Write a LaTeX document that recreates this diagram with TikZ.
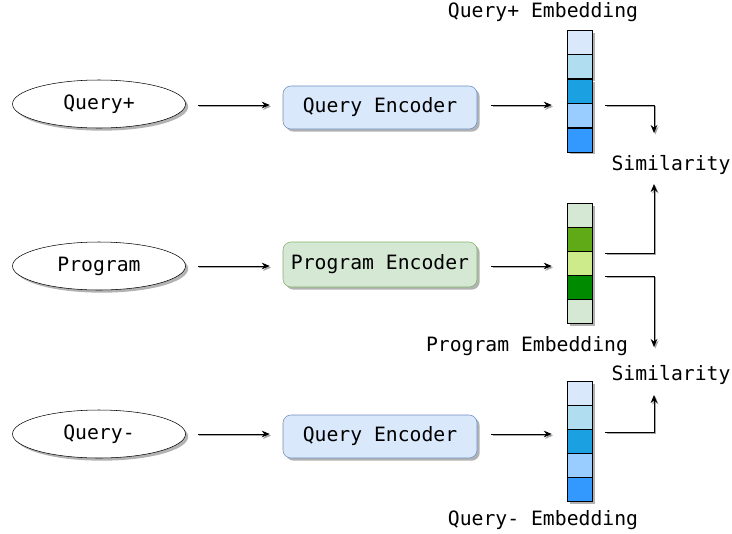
\documentclass[tikz,border=0pt]{standalone}
\usepackage{fontspec}
\setmonofont{DejaVu Sans Mono}
\usetikzlibrary{shapes.geometric,shadows,arrows.meta}
\definecolor{qfill}{HTML}{DAE8FC}
\definecolor{qdraw}{HTML}{6C8EBF}
\definecolor{pfill}{HTML}{D5E8D4}
\definecolor{pdraw}{HTML}{82B366}
\definecolor{qa}{HTML}{DAE8FC}
\definecolor{qb}{HTML}{B1DDF0}
\definecolor{qc}{HTML}{1BA1E2}
\definecolor{qd}{HTML}{99CCFF}
\definecolor{qe}{HTML}{3399FF}
\definecolor{pa}{HTML}{D5E8D4}
\definecolor{pb}{HTML}{60A917}
\definecolor{pc}{HTML}{CDEB8B}
\definecolor{pd}{HTML}{008A00}
\begin{document}
\begin{tikzpicture}[x=0.75pt,y=-0.75pt,
  txt/.style={font=\ttfamily\fontsize{14.8}{17}\selectfont},
  shd/.style={drop shadow={shadow xshift=2pt,shadow yshift=-2pt,opacity=0.3,fill=black}},
  inbox/.style={ellipse,draw=black,fill=white,shd,minimum width=173*0.75pt,minimum height=48*0.75pt,inner sep=0pt,txt},
  qenc/.style={rounded corners=6pt,draw=qdraw,fill=qfill,shd,minimum width=194*0.75pt,minimum height=43*0.75pt,inner sep=0pt,txt},
  penc/.style={rounded corners=6pt,draw=pdraw,fill=pfill,shd,minimum width=194*0.75pt,minimum height=45*0.75pt,inner sep=0pt,txt},
  cell/.style={draw=black,minimum width=25*0.75pt,minimum height=24*0.75pt,inner sep=0pt,shd},
  lbl/.style={txt,inner sep=0pt},
  arr/.style={draw=black,line width=0.6pt,-{Stealth[length=6pt,width=5pt]},
     preaction={draw=black!35,line width=0.6pt,transform canvas={xshift=1pt,yshift=-1.2pt}}}
]
\useasboundingbox (0,0) rectangle (732,533);
% row 1
\node[inbox] (qp) at (99,104) {Query+};
\node[qenc] (qe1) at (380,107.5) {Query Encoder};
\foreach \i/\c in {1/qa,2/qb,3/qc,4/qd,5/qe}{
  \node[cell,fill=\c] (e1\i) at (579.5,{30+24.4*(\i-0.5)}) {};
}
\node[lbl] (l1) at (543,12) {Query+ Embedding};
\node[lbl] (s1) at (671,165) {Similarity};
% row 2
\node[inbox] (pg) at (99,266) {Program};
\node[penc] (pe) at (380,264.5) {Program Encoder};
\foreach \i/\c in {1/pa,2/pb,3/pc,4/pd,5/pa}{
  \node[cell,fill=\c] (e2\i) at (579.5,{203+24*(\i-0.5)}) {};
}
\node[lbl] (l2) at (527,346) {Program Embedding};
\node[lbl] (s2) at (671,375) {Similarity};
% row 3
\node[inbox] (qm) at (99,434) {Query-};
\node[qenc] (qe2) at (380,436.5) {Query Encoder};
\foreach \i/\c in {1/qa,2/qb,3/qc,4/qd,5/qe}{
  \node[cell,fill=\c] (e3\i) at (579.5,{381+24*(\i-0.5)}) {};
}
\node[lbl] (l3) at (543,520) {Query- Embedding};
% coordinates for connector ends
\coordinate (t1) at (654,133);
\coordinate (t2) at (654,184);
\coordinate (t3) at (654,347);
\coordinate (t4) at (654,395);
% connectors
\draw[arr] ([xshift=12*0.75pt]qp.east|-0,105) -- ([xshift=-13*0.75pt]qe1.west|-0,105);
\draw[arr] ([xshift=14*0.75pt]qe1.east|-0,105) -- ([xshift=-15*0.75pt]e13.west|-0,105);
\draw[arr] ([xshift=12*0.75pt]pg.east|-0,266) -- ([xshift=-13*0.75pt]pe.west|-0,266);
\draw[arr] ([xshift=14*0.75pt]pe.east|-0,266) -- ([xshift=-15*0.75pt]e23.west|-0,266);
\draw[arr] ([xshift=12*0.75pt]qm.east|-0,434) -- ([xshift=-13*0.75pt]qe2.west|-0,434);
\draw[arr] ([xshift=14*0.75pt]qe2.east|-0,434) -- ([xshift=-15*0.75pt]e33.west|-0,434);
\draw[arr] ([xshift=13*0.75pt]e13.east|-0,105) -| (t1);
\draw[arr] ([xshift=13*0.75pt]e23.east|-0,253) -| (t2);
\draw[arr] ([xshift=13*0.75pt]e23.east|-0,276) -| (t3);
\draw[arr] ([xshift=13*0.75pt]e33.east|-0,432) -| (t4);
\end{tikzpicture}
\end{document}
